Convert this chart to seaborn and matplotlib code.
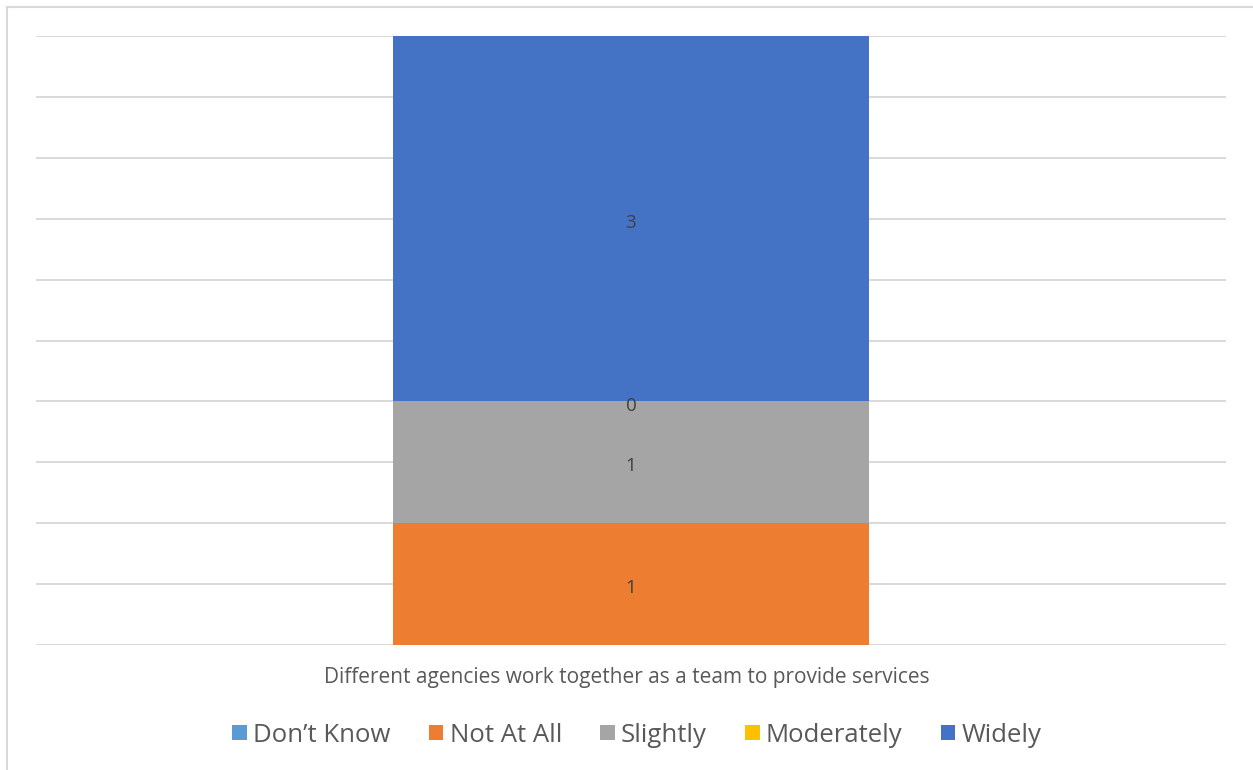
import matplotlib
matplotlib.use("Agg")
import matplotlib.pyplot as plt
from matplotlib.lines import Line2D
from matplotlib.patches import Patch
import seaborn as sns
import numpy as np

sns.set_theme(style="white")
plt.rcParams["font.family"] = ["Open Sans", "DejaVu Sans"]

category = "Different agencies work together as a team to provide services"
series = ["Don\u2019t Know", "Not At All", "Slightly", "Moderately", "Widely"]
values = [None, 1, 1, 0, 3]
colors = ["#5B9BD5", "#ED7D31", "#A5A5A5", "#FFC000", "#4472C4"]

W, H = 1253, 770
fig = plt.figure(figsize=(W / 100, H / 100), dpi=100)
ax = fig.add_axes([36 / W, 1 - 645 / H, (1226 - 36) / W, (645 - 36) / H])

bottom = 0.0
for name, val, col in zip(series, values, colors):
    if val is None:
        continue
    sns.barplot(x=[category], y=[val], bottom=bottom, color=col, width=0.4,
                saturation=1, ax=ax, zorder=3, linewidth=0)
    ax.annotate(f"{val:g}", (0, bottom + val / 2), xytext=(0, -3),
                textcoords="offset points", ha="center", va="center",
                fontsize=13.5, color="#404040", zorder=4)
    bottom += val

ax.set_ylim(0, 5)
ax.set_xlim(-0.5, 0.5)
ax.set_yticks(np.arange(0, 5.01, 0.5))
ax.yaxis.grid(True, color="#D9D9D9", linewidth=1.4, zorder=0)
ax.set_yticklabels([])
ax.tick_params(axis="both", length=0)
ax.set_xticks([])
ax.set_xlabel("")
ax.set_ylabel("")
for s in ax.spines.values():
    s.set_visible(False)

fig.text(0.5, 1 - 677 / H, category, ha="center", va="center",
         fontsize=15, color="#595959")

handles = [Patch(facecolor=c, edgecolor="none") for c in colors]
fig.legend(handles, series, loc="center", bbox_to_anchor=(637 / W, 1 - 735 / H),
           ncol=5, frameon=False, fontsize=18.5, labelcolor="#595959",
           handlelength=0.55, handleheight=0.55, handletextpad=0.25,
           columnspacing=1.5)

# chart-area border (left and top edges)
fig.add_artist(Line2D([7 / W, 7 / W], [0, 1 - 7 / H], transform=fig.transFigure,
                      color="#D9D9D9", linewidth=1.5))
fig.add_artist(Line2D([7 / W, 1], [1 - 7 / H, 1 - 7 / H], transform=fig.transFigure,
                      color="#D9D9D9", linewidth=1.5))

fig.savefig("out.png", dpi=100, facecolor="white")
